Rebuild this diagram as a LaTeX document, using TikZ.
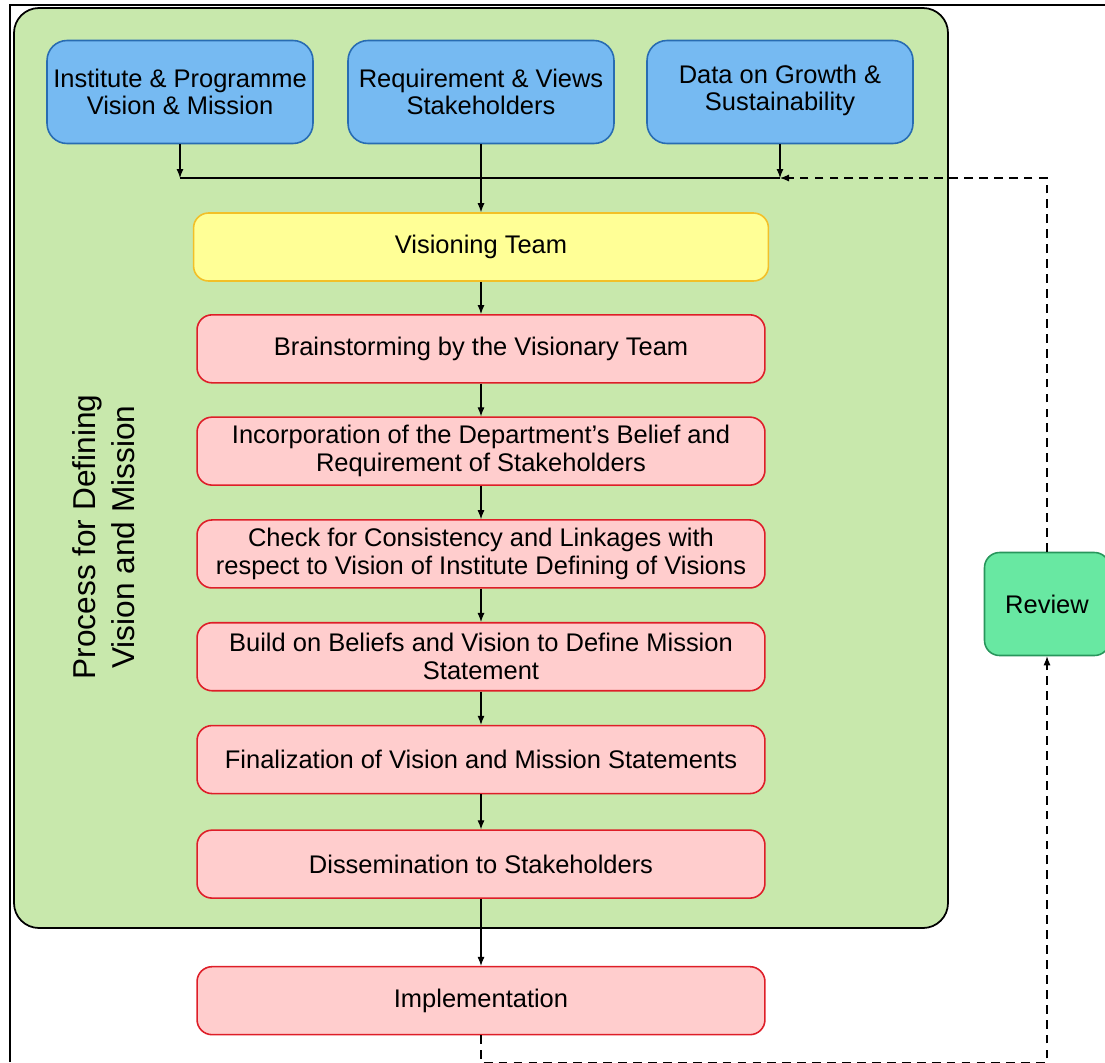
\documentclass[tikz,border=0pt]{standalone}
\usepackage{fontspec}
\setmainfont{Liberation Sans}
\usepackage{xcolor}
\usepackage{tikz}
\usetikzlibrary{
	arrows.meta,
	calc,
	positioning,
	}

\definecolor{framegreen}{RGB}{200,232,172}
\definecolor{bluefill}{RGB}{118,186,242}
\definecolor{blueline}{RGB}{40,108,178}
\definecolor{yellowfill}{RGB}{255,255,150}
\definecolor{yellowline}{RGB}{242,192,40}
\definecolor{pinkfill}{RGB}{255,205,205}
\definecolor{redline}{RGB}{222,30,40}
\definecolor{reviewfill}{RGB}{104,232,162}
\definecolor{reviewline}{RGB}{40,150,92}

\tikzset{
	box/.style={draw, line width=0.9pt, rounded corners=0.3cm, align=center, inner sep=0pt, font=\fontsize{14.5}{15.8}\selectfont},
	inbox/.style={box, fill=bluefill, draw=blueline, rounded corners=0.4cm, minimum width=5.32cm, minimum height=2.06cm},
	teambox/.style={box, fill=yellowfill, draw=yellowline, minimum width=11.5cm, minimum height=1.36cm},
	stepbox/.style={box, fill=pinkfill, draw=redline, minimum width=11.36cm, minimum height=1.36cm},
	reviewbox/.style={box, fill=reviewfill, draw=reviewline, minimum width=2.5cm, minimum height=2.06cm},
	arr/.style={-{Latex[length=1.8mm,width=1.4mm]}, line width=0.6pt},
	loopline/.style={arr, dash pattern=on 5pt off 3.5pt},
}

\begin{document}
\begin{tikzpicture}[x=0.02cm, y=-0.02cm]
			\useasboundingbox (0,0) rectangle (1105,1062);
			% outer frame and green panel
			\draw[line width=1.1pt] (10,1062) -- (10,5) -- (1105,5);
			\draw[fill=framegreen, line width=1pt, rounded corners=0.5cm] (14,8) rectangle (948,928);
			\node[rotate=90, align=center, font=\fontsize{18}{22}\selectfont] (title) at (104,537) {Process for Defining\\Vision and Mission};

			% inputs
			\node[inbox] (inst) at (180,92) {Institute \& Programme\\Vision \& Mission};
			\node[inbox] (req) at (481,92) {Requirement \& Views\\Stakeholders};
			\node[inbox] (data) at (780,92) {Data on Growth \&\\Sustainability\strut};
			\coordinate (busL) at (180,178);
			\coordinate (busR) at (780,178);
			\coordinate (loop) at (1047,1062.6);

			% steps
			\node[teambox] (team) at (481,247) {Visioning Team};
			\node[stepbox, below=0.645cm of team] (brain) {Brainstorming by the Visionary Team};
			\node[stepbox, below=0.655cm of brain] (belief) {Incorporation of the Department's Belief and\\Requirement of Stakeholders};
			\node[stepbox, below=0.665cm of belief] (check) {Check for Consistency and Linkages with\\respect to Vision of Institute Defining of Visions};
			\node[stepbox, below=0.665cm of check] (build) {Build on Beliefs and Vision to Define Mission\\Statement};
			\node[stepbox, below=0.665cm of build] (final) {Finalization of Vision and Mission Statements};
			\node[stepbox, below=0.7cm of final] (spread) {Dissemination to Stakeholders};
			\node[stepbox, below=1.34cm of spread] (impl) {Implementation};
			\node[reviewbox] (review) at (1047,604) {Review};

			\draw[arr] (inst.south) -- (busL);
			\draw[arr] (data.south) -- (busR);
			\draw[line width=0.6pt] (busL) -- (busR);
			\draw[arr] (req.south) -- (team.north);
			\draw[arr] (team) -- (brain);
			\draw[arr] (brain) -- (belief);
			\draw[arr] (belief) -- (check);
			\draw[arr] (check) -- (build);
			\draw[arr] (build) -- (final);
			\draw[arr] (final) -- (spread);
			\draw[arr] (spread) -- (impl);
			\draw[loopline] (review.north) |- (busR);
			\draw[loopline] (impl.south) |- (loop) -- (review.south);
		\end{tikzpicture}
\end{document}
